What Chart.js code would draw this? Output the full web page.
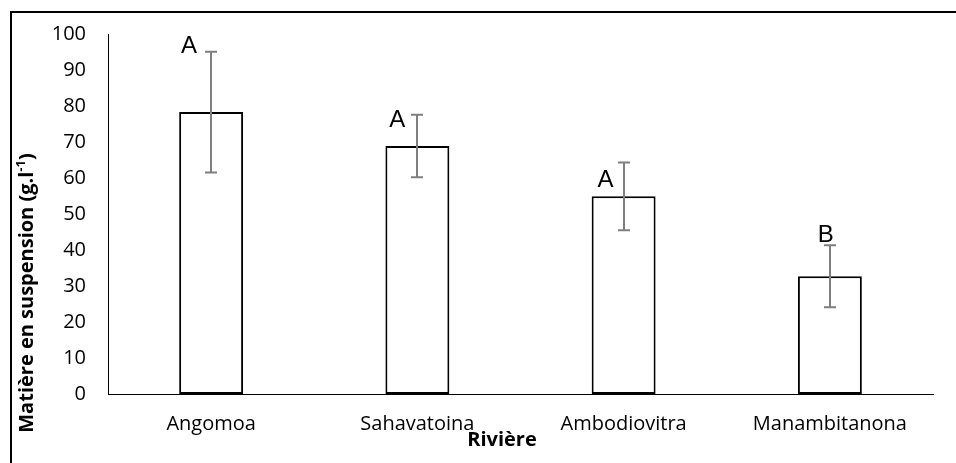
<!DOCTYPE html>
<html>
<head>
<meta charset="utf-8">
<script src="https://cdn.jsdelivr.net/npm/chart.js@4"></script>
<style>
html, body { margin: 0; padding: 0; background: #fff; }
#cadre { width: 956px; height: 463px; position: relative; }
</style>
</head>
<body>
<div id="cadre"><canvas id="graficoMES"></canvas></div>
<script>
const rivieres = ['Angomoa', 'Sahavatoina', 'Ambodiovitra', 'Manambitanona'];
const moyennes = [78.3, 68.9, 54.9, 32.7];
const ecarts = [16.8, 8.7, 9.4, 8.6];
const lettres = ['A', 'A', 'A', 'B'];
const lettresNiveau = [96.7, 76.1, 59.3, 44.2];   // hauteur des lettres (unites de l'axe)

const POLICE = "'Open Sans', 'Noto Sans', sans-serif";

const decor = {
    id: 'decor',
    afterDatasetsDraw(chart) {
        const ctx = chart.ctx;
        const x = chart.scales.x, y = chart.scales.y;
        ctx.save();
        // barres d'erreur
        ctx.strokeStyle = '#7f7f7f';
        ctx.lineWidth = 2;
        moyennes.forEach((m, i) => {
            const cx = Math.round(x.getPixelForValue(i));
            const haut = y.getPixelForValue(m + ecarts[i]);
            const bas = y.getPixelForValue(m - ecarts[i]);
            ctx.beginPath();
            ctx.moveTo(cx, haut); ctx.lineTo(cx, bas);
            ctx.moveTo(cx - 6, haut); ctx.lineTo(cx + 6, haut);
            ctx.moveTo(cx - 6, bas); ctx.lineTo(cx + 6, bas);
            ctx.stroke();
        });
        // lettres de groupes
        const decal = [-22, -20, -18, -4];
        ctx.fillStyle = '#000';
        ctx.font = "24px 'Liberation Sans', Arial, sans-serif";
        ctx.textAlign = 'center';
        ctx.textBaseline = 'middle';
        lettres.forEach((l, i) => {
            ctx.fillText(l, x.getPixelForValue(i) + decal[i], y.getPixelForValue(lettresNiveau[i]));
        });
        ctx.restore();
    },
    afterDraw(chart) {
        const ctx = chart.ctx;
        ctx.save();
        ctx.fillStyle = '#000';
        // titre axe x
        ctx.font = 'bold 20px ' + POLICE;
        ctx.textAlign = 'center';
        ctx.textBaseline = 'alphabetic';
        ctx.fillText('Rivière', 502, 446);
        // titre axe y avec exposant
        const principal = 'Matière en suspension (g.l';
        const fontP = 'bold 20px ' + POLICE, fontS = 'bold 13px ' + POLICE;
        ctx.font = fontP;
        const w1 = ctx.measureText(principal).width;
        const w3 = ctx.measureText(')').width;
        ctx.font = fontS;
        const w2 = ctx.measureText('-1').width;
        const total = w1 + w2 + w3;
        ctx.translate(33, 293);
        ctx.rotate(-Math.PI / 2);
        ctx.textAlign = 'left';
        let px = -total / 2;
        ctx.font = fontP;
        ctx.fillText(principal, px, 0);
        px += w1;
        ctx.font = fontS;
        ctx.fillText('-1', px, -8);
        px += w2;
        ctx.font = fontP;
        ctx.fillText(')', px, 0);
        ctx.restore();
        // cadre de la figure
        ctx.save();
        ctx.strokeStyle = '#000';
        ctx.lineWidth = 2;
        ctx.strokeRect(11, 12, 1000, 1000);
        ctx.restore();
    }
};

new Chart(document.getElementById('graficoMES').getContext('2d'), {
    type: 'bar',
    data: {
        labels: rivieres,
        datasets: [{
            data: moyennes,
            backgroundColor: '#ffffff',
            borderColor: '#000000',
            borderWidth: 2,
            borderSkipped: false,
            categoryPercentage: 1,
            barPercentage: 0.31
        }]
    },
    options: {
        responsive: true,
        maintainAspectRatio: false,
        animation: false,
        layout: { padding: { top: 30, right: 23, left: 0, bottom: 0 } },
        plugins: { legend: { display: false }, tooltip: { enabled: false } },
        scales: {
            x: {
                grid: { display: false, drawTicks: false },
                border: { display: true, color: '#000', width: 1 },
                ticks: { color: '#000', font: { family: POLICE, size: 20 }, padding: 18 },
                afterFit: s => { s.height = 69; }
            },
            y: {
                min: 0, max: 100,
                grid: { display: false, drawTicks: false },
                border: { display: true, color: '#000', width: 1 },
                ticks: { stepSize: 10, color: '#000', font: { family: POLICE, size: 20 }, padding: 22 },
                afterFit: s => { s.width = 108; }
            }
        }
    },
    plugins: [decor]
});
</script>
</body>
</html>
